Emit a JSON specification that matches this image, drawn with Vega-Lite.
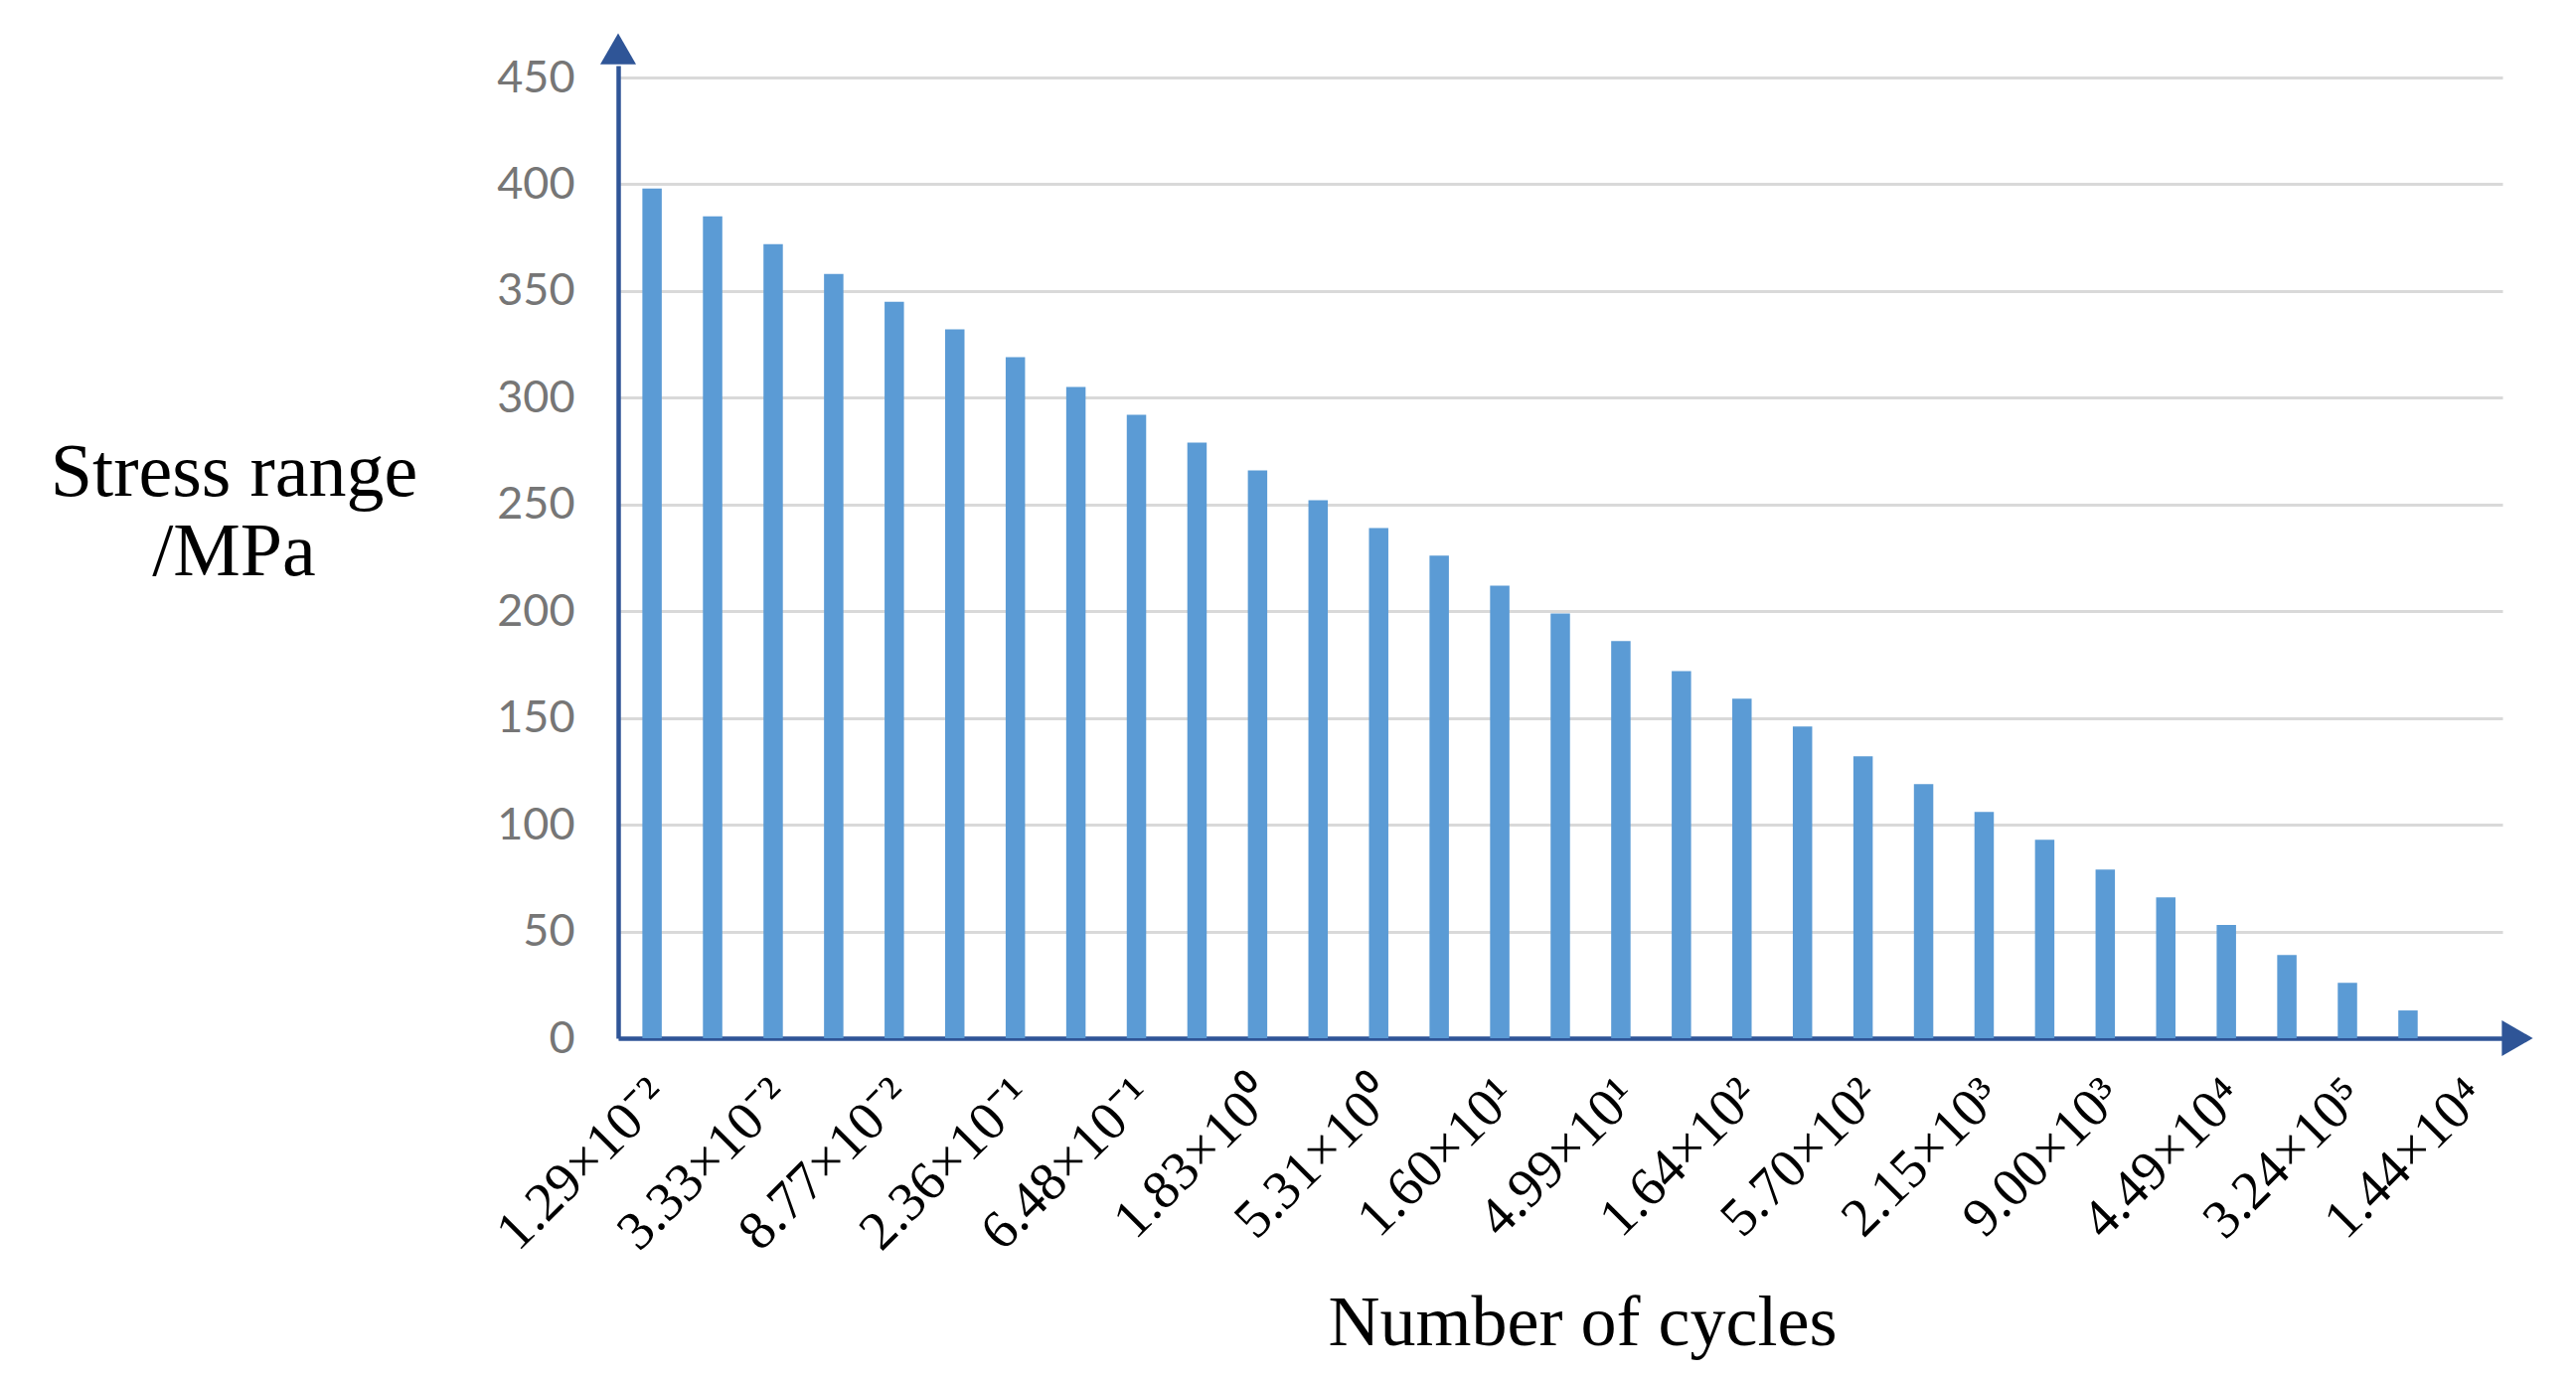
{
  "$schema": "https://vega.github.io/schema/vega-lite/v6.json",
  "autosize": {"type": "none"},
  "padding": {"left": 622, "top": 66, "right": 74, "bottom": 339},
  "width": 1896,
  "height": 979,
  "background": "white",
  "config": {"view": {"stroke": null}},
  "data": {"values": [
    {"bar": 1, "stress": 398, "cycles": "1.29×10⁻²"},
    {"bar": 2, "stress": 385, "cycles": ""},
    {"bar": 3, "stress": 372, "cycles": "3.33×10⁻²"},
    {"bar": 4, "stress": 358, "cycles": ""},
    {"bar": 5, "stress": 345, "cycles": "8.77×10⁻²"},
    {"bar": 6, "stress": 332, "cycles": ""},
    {"bar": 7, "stress": 319, "cycles": "2.36×10⁻¹"},
    {"bar": 8, "stress": 305, "cycles": ""},
    {"bar": 9, "stress": 292, "cycles": "6.48×10⁻¹"},
    {"bar": 10, "stress": 279, "cycles": ""},
    {"bar": 11, "stress": 266, "cycles": "1.83×10⁰"},
    {"bar": 12, "stress": 252, "cycles": ""},
    {"bar": 13, "stress": 239, "cycles": "5.31×10⁰"},
    {"bar": 14, "stress": 226, "cycles": ""},
    {"bar": 15, "stress": 212, "cycles": "1.60×10¹"},
    {"bar": 16, "stress": 199, "cycles": ""},
    {"bar": 17, "stress": 186, "cycles": "4.99×10¹"},
    {"bar": 18, "stress": 172, "cycles": ""},
    {"bar": 19, "stress": 159, "cycles": "1.64×10²"},
    {"bar": 20, "stress": 146, "cycles": ""},
    {"bar": 21, "stress": 132, "cycles": "5.70×10²"},
    {"bar": 22, "stress": 119, "cycles": ""},
    {"bar": 23, "stress": 106, "cycles": "2.15×10³"},
    {"bar": 24, "stress": 93, "cycles": ""},
    {"bar": 25, "stress": 79, "cycles": "9.00×10³"},
    {"bar": 26, "stress": 66, "cycles": ""},
    {"bar": 27, "stress": 53, "cycles": "4.49×10⁴"},
    {"bar": 28, "stress": 39, "cycles": ""},
    {"bar": 29, "stress": 26, "cycles": "3.24×10⁵"},
    {"bar": 30, "stress": 13, "cycles": ""},
    {"bar": 31, "stress": 0, "cycles": "1.44×10⁴"}
  ]},
  "encoding": {
    "x": {
      "field": "bar", "type": "ordinal",
      "scale": {"paddingInner": 0.68, "paddingOuter": 0.4, "align": 0.5, "round": false},
      "axis": {
        "labels": false, "ticks": false, "grid": false,
        "domain": true, "domainColor": "#2F5597", "domainWidth": 4.5,
        "title": "Number of cycles",
        "titleFont": "Liberation Serif", "titleFontSize": 72, "titleFontWeight": "normal",
        "titleColor": "#000000", "titleX": 970, "titleY": 308,
        "titleAlign": "center", "titleBaseline": "alphabetic"
      }
    }
  },
  "layer": [
    {
      "mark": {"type": "bar", "color": "#5B9BD5"},
      "encoding": {
        "y": {
          "field": "stress", "type": "quantitative",
          "scale": {"domain": [0, 455.6], "nice": false, "zero": true},
          "axis": {
            "values": [0, 50, 100, 150, 200, 250, 300, 350, 400, 450],
            "grid": true, "gridColor": "#d9d9d9", "gridWidth": 3,
            "domain": true, "domainColor": "#2F5597", "domainWidth": 4.5,
            "ticks": false, "tickSize": 0, "labelPadding": 44,
            "labelFont": "Lato", "labelFontSize": 45, "labelColor": "#767676",
            "title": ["Stress range", "/MPa"],
            "titleFont": "Liberation Serif", "titleFontSize": 76, "titleFontWeight": "normal",
            "titleColor": "#000000", "titleAngle": 0, "titleX": -387, "titleY": 432,
            "titleAlign": "center", "titleBaseline": "alphabetic", "titleLineHeight": 80
          }
        }
      }
    },
    {
      "mark": {"type": "text", "font": "Liberation Serif", "fontSize": 55, "color": "#000000",
               "angle": 315, "align": "right", "baseline": "top", "yOffset": 20, "dx": -16},
      "encoding": {
        "y": {"datum": 0},
        "text": {"field": "cycles"}
      }
    },
    {
      "data": {"values": [{"arrow": "y"}]},
      "mark": {"type": "point", "shape": "triangle-up", "size": 1300, "filled": true,
               "color": "#2F5597", "opacity": 1, "strokeWidth": 0},
      "encoding": {
        "x": {"value": 0},
        "y": {"datum": 463.5}
      }
    },
    {
      "data": {"values": [{"arrow": "x"}]},
      "mark": {"type": "point", "shape": "triangle-right", "size": 1300, "filled": true,
               "color": "#2F5597", "opacity": 1, "strokeWidth": 0},
      "encoding": {
        "x": {"value": 1911},
        "y": {"datum": 0}
      }
    }
  ]
}
